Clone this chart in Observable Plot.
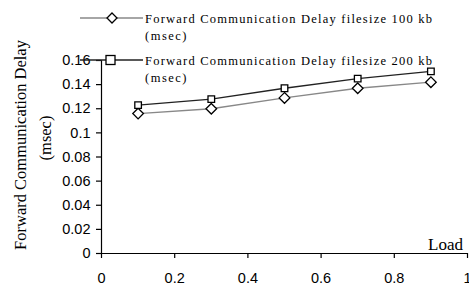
<!DOCTYPE html>
<html>
<head>
<meta charset="utf-8">
<script src="https://cdn.jsdelivr.net/npm/d3@7"></script>
<script src="https://cdn.jsdelivr.net/npm/@observablehq/plot@0.6"></script>
<style>
  html, body { margin: 0; padding: 0; background: #fff; }
  #chart { width: 469px; height: 286px; overflow: hidden; }
</style>
</head>
<body>
<div id="chart"></div>
<script>
const load = [0.1, 0.3, 0.5, 0.7, 0.9];
const delay100 = [0.116, 0.120, 0.129, 0.137, 0.142];
const delay200 = [0.123, 0.128, 0.137, 0.145, 0.151];
const seriesNames = [
  ["Forward Communication Delay filesize 100 kb", "(msec)"],
  ["Forward Communication Delay filesize 200 kb", "(msec)"]
];
const xTicks = [0, 0.2, 0.4, 0.6, 0.8, 1];
const yTicks = [0, 0.02, 0.04, 0.06, 0.08, 0.1, 0.12, 0.14, 0.16];

const s1 = load.map((x, i) => ({x, y: delay100[i]}));
const s2 = load.map((x, i) => ({x, y: delay200[i]}));

const plot = Plot.plot({
  width: 469,
  height: 286,
  marginLeft: 101,
  marginRight: 2,
  marginTop: 60,
  marginBottom: 33,
  style: {fontFamily: "Liberation Sans, Arial, sans-serif", fontSize: "14.5px", background: "#fff", color: "#000", overflow: "visible"},
  x: {domain: [0, 1]},
  y: {domain: [0, 0.16]},
  marks: [
    Plot.axisX({ticks: xTicks, tickSize: 5, tickPadding: 14, tickFormat: d => String(d), label: null, stroke: "#000", strokeWidth: 1.2}),
    Plot.axisY({ticks: yTicks, tickSize: 5, tickPadding: 6, tickFormat: d => String(d), label: null, stroke: "#000", strokeWidth: 1.2}),
    Plot.ruleY([0], {stroke: "#000", strokeWidth: 1.2}),
    Plot.ruleX([0], {y1: 0, y2: 0.16, stroke: "#000", strokeWidth: 1.2}),
    Plot.line(s1, {x: "x", y: "y", stroke: "#888", strokeWidth: 1.3}),
    Plot.line(s2, {x: "x", y: "y", stroke: "#222", strokeWidth: 1.3}),
    Plot.dot(s1, {x: "x", y: "y", symbol: "diamond2", r: 4.8, stroke: "#000", fill: "#fff", strokeWidth: 1.3}),
    Plot.dot(s2, {x: "x", y: "y", symbol: "square2", r: 4.2, stroke: "#000", fill: "#fff", strokeWidth: 1.3}),
    Plot.text(["Load"], {frameAnchor: "bottom-right", dx: -22, dy: -4, fontFamily: "Liberation Serif, Times New Roman, serif", fontSize: 17, textAnchor: "middle", lineAnchor: "bottom"})
  ]
});
document.getElementById("chart").appendChild(plot);

const svg = d3.select(plot);
const serif = "Liberation Serif, Times New Roman, serif";
// y axis label
const yl = svg.append("g").attr("transform", "translate(20,145) rotate(-90)");
yl.append("text").attr("text-anchor", "middle").attr("dy", "0.35em")
  .attr("font-family", serif).attr("font-size", 16.5).attr("fill", "#000")
  .text("Forward Communication Delay");
const yl2 = svg.append("g").attr("transform", "translate(45,138) rotate(-90)");
yl2.append("text").attr("text-anchor", "middle").attr("dy", "0.35em")
  .attr("font-family", serif).attr("font-size", 16.5).attr("fill", "#000")
  .text("(msec)");

// legend
const leg = [
  {y: 18, stroke: "#888", sym: "diamond"},
  {y: 60, stroke: "#222", sym: "square"}
];
leg.forEach((l, i) => {
  const g = svg.append("g");
  g.append("line").attr("x1", 80).attr("x2", 143).attr("y1", l.y).attr("y2", l.y)
    .attr("stroke", l.stroke).attr("stroke-width", 1.3);
  if (l.sym === "diamond") {
    g.append("path").attr("transform", `translate(112,${l.y})`)
      .attr("d", "M0,-5L5,0L0,5L-5,0Z").attr("fill", "#fff").attr("stroke", "#000").attr("stroke-width", 1.3);
  } else {
    g.append("rect").attr("x", 106).attr("y", l.y - 4.5).attr("width", 9).attr("height", 9)
      .attr("fill", "#fff").attr("stroke", "#000").attr("stroke-width", 1.3);
  }
  g.append("text").attr("x", 145).attr("y", l.y + 4.5).attr("text-anchor", "start")
    .attr("font-family", serif).attr("font-size", 12.5).attr("fill", "#000")
    .attr("textLength", 287).attr("lengthAdjust", "spacing")
    .text(seriesNames[i][0]);
  g.append("text").attr("x", 145).attr("y", l.y + 22).attr("text-anchor", "start")
    .attr("font-family", serif).attr("font-size", 12.5).attr("fill", "#000")
    .attr("letter-spacing", 1.5)
    .text(seriesNames[i][1]);
});
</script>
</body>
</html>
